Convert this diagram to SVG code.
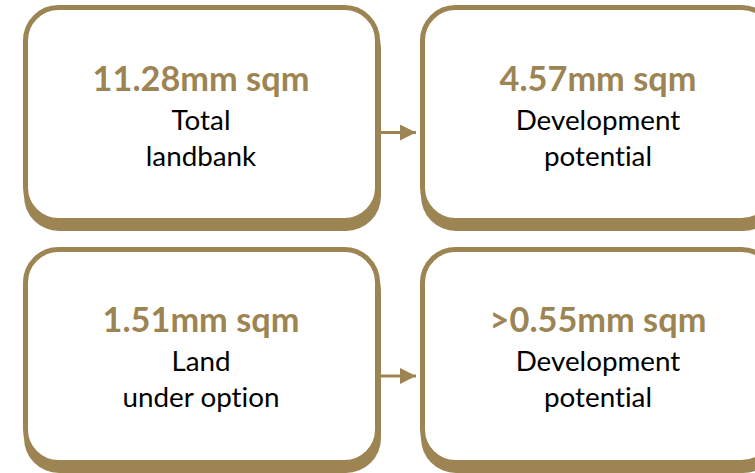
<svg xmlns="http://www.w3.org/2000/svg" width="755" height="473" viewBox="0 0 755 473">
<style>
.shadow{fill:#9C8553;}
.box{fill:#fff;stroke:#9C8553;stroke-width:5;}
.title{font-family:Lato,"Open Sans","Liberation Sans",sans-serif;font-weight:bold;font-size:34.3px;fill:#9C8553;text-anchor:middle;font-variant-ligatures:none;}
.body{font-family:Lato,"Open Sans","Liberation Sans",sans-serif;font-size:27.8px;fill:#000;text-anchor:middle;font-variant-ligatures:none;}
.conn{stroke:#9C8553;stroke-width:3;fill:none;}
</style>
<defs>
<marker id="arr" markerUnits="userSpaceOnUse" markerWidth="16" markerHeight="16" refX="16" refY="8" orient="auto">
<path d="M0,0 L16,8 L0,16 Z" fill="#9C8553"/>
</marker>
</defs>
<rect width="755" height="473" fill="#fff"/>
<g id="node-total-landbank">
<rect class="shadow" x="24" y="13" width="357" height="218" rx="35"/>
<rect class="box" x="25.5" y="7.5" width="352" height="213" rx="33"/>
<text class="title" x="201" y="90.5">11.28mm sqm</text>
<text class="body" x="201" y="129.5">Total</text>
<text class="body" x="201" y="165.5">landbank</text>
</g>
<g id="node-dev-potential-1">
<rect class="shadow" x="421" y="13" width="357" height="218" rx="35"/>
<rect class="box" x="422.5" y="7.5" width="352" height="213" rx="33"/>
<text class="title" x="598" y="90.5">4.57mm sqm</text>
<text class="body" x="598" y="129.5">Development</text>
<text class="body" x="598" y="165.5">potential</text>
</g>
<g id="node-land-under-option">
<rect class="shadow" x="24" y="255" width="357" height="218" rx="35"/>
<rect class="box" x="25.5" y="249.5" width="352" height="213" rx="33"/>
<text class="title" x="201" y="331.5">1.51mm sqm</text>
<text class="body" x="201" y="370.5">Land</text>
<text class="body" x="201" y="406.5">under option</text>
</g>
<g id="node-dev-potential-2">
<rect class="shadow" x="421" y="255" width="357" height="218" rx="35"/>
<rect class="box" x="422.5" y="249.5" width="352" height="213" rx="33"/>
<text class="title" x="598" y="331.5">&gt;0.55mm sqm</text>
<text class="body" x="598" y="370.5">Development</text>
<text class="body" x="598" y="406.5">potential</text>
</g>
<g id="connectors">
<line class="conn" x1="380" y1="132.5" x2="416" y2="132.5" marker-end="url(#arr)"/>
<line class="conn" x1="380" y1="376" x2="416" y2="376" marker-end="url(#arr)"/>
</g>
</svg>
